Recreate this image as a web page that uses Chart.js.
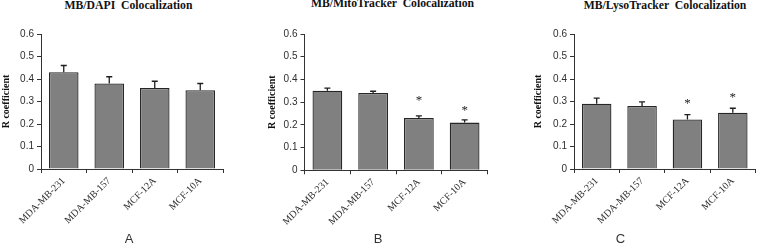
<!DOCTYPE html>
<html>
<head>
<meta charset="utf-8">
<script src="https://cdn.jsdelivr.net/npm/chart.js@4"></script>
<style>
  html, body { margin:0; padding:0; background:#fff; }
  #wrap { position:relative; width:757px; height:245px; overflow:hidden; background:#fff; }
  canvas { position:absolute; top:0; }
  .ttl { position:absolute; font:bold 11.7px "Liberation Serif", "Times New Roman", serif; line-height:1; color:#111; white-space:pre; transform:translateX(-50%); }
  .lbl { position:absolute; font:13px "Liberation Sans", Arial, sans-serif; line-height:1; color:#333; transform:translateX(-50%); }
</style>
</head>
<body>
<div id="wrap">
  <div class="ttl" style="left:128.5px; top:-0.5px;">MB/DAPI  Colocalization</div>
  <div class="ttl" style="left:392.5px; top:-2px;">MB/MitoTracker  Colocalization</div>
  <div class="ttl" style="left:665px; top:0.2px;">MB/LysoTracker  Colocalization</div>
  <canvas id="cA" width="226" height="245" style="left:0px;"></canvas>
  <canvas id="cB" width="225" height="245" style="left:266px;"></canvas>
  <canvas id="cC" width="225" height="245" style="left:532px;"></canvas>
  <div class="lbl" style="left:129px; top:232.3px;">A</div>
  <div class="lbl" style="left:378px; top:232.3px;">B</div>
  <div class="lbl" style="left:620.5px; top:232.3px;">C</div>
</div>
<script>
// ---- data ----
const categories = ['MDA-MB-231', 'MDA-MB-157', 'MCF-12A', 'MCF-10A'];
const yTickLabels = ['0', '0.1', '0.2', '0.3', '0.4', '0.5', '0.6'];

const dapiValues = [0.43, 0.38, 0.36, 0.35];
const dapiErrors = [0.03, 0.03, 0.03, 0.03];
const dapiStars  = [null, null, null, null];

const mitoValues = [0.35, 0.34, 0.23, 0.21];
const mitoErrors = [0.012, 0.008, 0.01, 0.012];
const mitoStars  = [null, null, 0.32, 0.276];

const lysoValues = [0.29, 0.28, 0.22, 0.25];
const lysoErrors = [0.025, 0.018, 0.022, 0.02];
const lysoStars  = [null, null, 0.304, 0.335];

// ---- plugin: error bars + significance stars ----
const errorStarPlugin = {
  id: 'errorStar',
  afterDatasetsDraw(chart) {
    const ctx = chart.ctx;
    const yScale = chart.scales.y;
    chart.data.datasets.forEach((ds, di) => {
      const meta = chart.getDatasetMeta(di);
      meta.data.forEach((bar, i) => {
        const v = ds.data[i];
        const e = ds.errors ? ds.errors[i] : null;
        const x = bar.x;
        if (e != null) {
          const y0 = yScale.getPixelForValue(v);
          const y1 = yScale.getPixelForValue(v + e);
          ctx.save();
          ctx.strokeStyle = '#1e1e1e';
          ctx.lineWidth = 1.3;
          ctx.beginPath();
          ctx.moveTo(x, y0);
          ctx.lineTo(x, y1);
          ctx.moveTo(x - 3, y1);
          ctx.lineTo(x + 3, y1);
          ctx.stroke();
          ctx.restore();
        }
        const s = ds.stars ? ds.stars[i] : null;
        if (s != null) {
          const ys = yScale.getPixelForValue(s);
          const fs = 13;
          ctx.save();
          ctx.fillStyle = '#222';
          ctx.font = fs + 'px "Liberation Serif", "Times New Roman", serif';
          ctx.textAlign = 'center';
          ctx.textBaseline = 'alphabetic';
          ctx.fillText('*', x, ys + 0.53 * fs);
          ctx.restore();
        }
      });
    });
  }
};

function makeChart(id, values, errors, stars, yWidth, xHeight, padRight) {
  return new Chart(document.getElementById(id), {
    type: 'bar',
    data: {
      labels: categories,
      datasets: [{
        data: values,
        errors: errors,
        stars: stars,
        backgroundColor: '#808080',
        borderColor: '#262626',
        borderWidth: 1.3,
        barPercentage: 0.65,
        categoryPercentage: 1.0
      }]
    },
    options: {
      responsive: false,
      animation: false,
      devicePixelRatio: 1,
      layout: { padding: { left: 0, top: 34, right: padRight, bottom: 0 } },
      plugins: {
        legend: { display: false },
        tooltip: { enabled: false },
        title: { display: false }
      },
      scales: {
        x: {
          grid: { display: true, drawOnChartArea: false, drawTicks: true, tickLength: 4, color: '#333', offset: true },
          border: { display: true, color: '#333', width: 1 },
          ticks: {
            minRotation: 45, maxRotation: 45, autoSkip: false,
            font: { family: '"Liberation Serif", "Times New Roman", serif', size: 10 },
            color: '#2e2e2e', padding: 2
          },
          afterFit: s => { s.height = xHeight; }
        },
        y: {
          min: 0, max: 0.6,
          ticks: {
            stepSize: 0.1,
            font: { family: '"Liberation Sans", Arial, sans-serif', size: 10 },
            color: '#2e2e2e', padding: 3,
            callback: (v, i) => yTickLabels[i]
          },
          grid: { display: true, drawOnChartArea: false, drawTicks: true, tickLength: 4, color: '#333' },
          border: { display: true, color: '#333', width: 1 },
          title: {
            display: true, text: 'R coefficient', color: '#111', padding: 0,
            font: { family: '"Liberation Serif", "Times New Roman", serif', size: 10, weight: 'bold' }
          },
          afterFit: s => { s.width = yWidth; }
        }
      }
    },
    plugins: [errorStarPlugin]
  });
}

makeChart('cA', dapiValues, dapiErrors, dapiStars, 41, 76, 3);
makeChart('cB', mitoValues, mitoErrors, mitoStars, 38.5, 74.7, 3.5);
makeChart('cC', lysoValues, lysoErrors, lysoStars, 42, 76, 1.5);
</script>
</body>
</html>
